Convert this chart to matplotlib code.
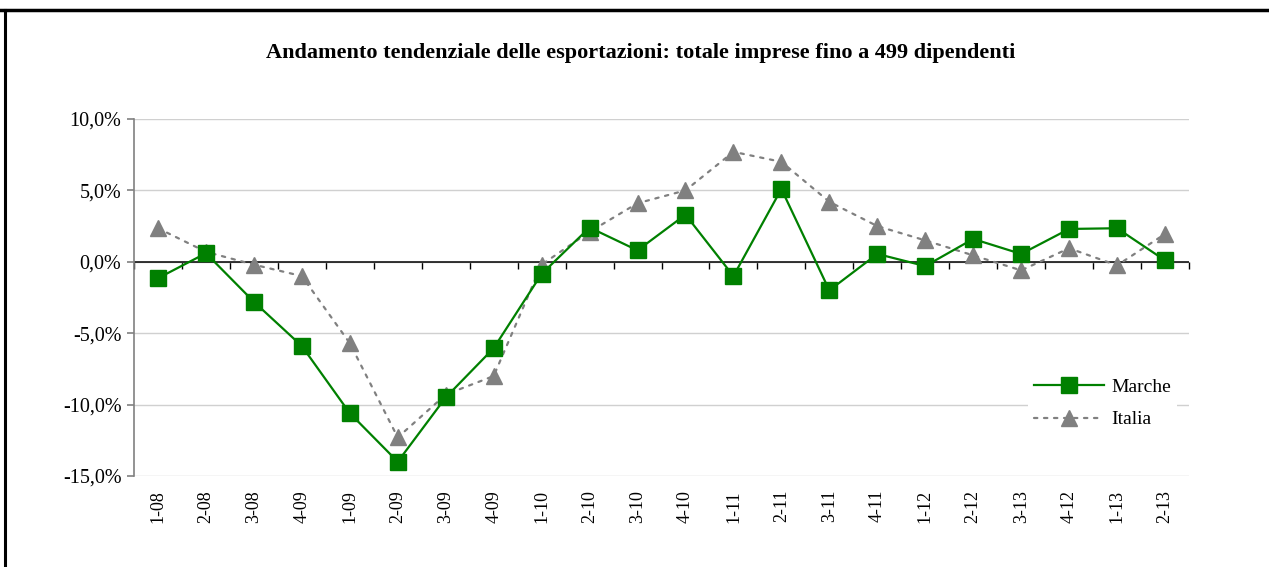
import numpy as np
import matplotlib.pyplot as plt
from matplotlib.lines import Line2D
from matplotlib.ticker import FuncFormatter

# dati (variazione tendenziale, %)
trimestri = ["1-08", "2-08", "3-08", "4-09", "1-09", "2-09", "3-09", "4-09",
             "1-10", "2-10", "3-10", "4-10", "1-11", "2-11", "3-11", "4-11",
             "1-12", "2-12", "3-13", "4-12", "1-13", "2-13"]
marche = [-1.15, 0.6, -2.8, -5.9, -10.6, -14.0, -9.5, -6.05,
          -0.85, 2.4, 0.8, 3.3, -1.0, 5.1, -2.0, 0.55,
          -0.3, 1.6, 0.55, 2.3, 2.35, 0.1]
italia = [2.35, 0.7, -0.2, -1.0, -5.7, -12.3, -9.3, -8.0,
          -0.2, 2.1, 4.1, 5.0, 7.7, 7.0, 4.2, 2.5,
          1.5, 0.45, -0.6, 0.95, -0.25, 1.95]

plt.rcParams['font.family'] = ['Liberation Serif', 'DejaVu Serif']

fig = plt.figure(figsize=(12.69, 5.67), dpi=100)
ax = fig.add_axes([134/1269, 1 - 476/567, 1055/1269, 357/567])

x = np.arange(len(trimestri))
ax.plot(x, marche, color='#008000', lw=1.6, marker='s', markersize=11.5,
        markeredgecolor='#008000', label='Marche', zorder=4)
ax.plot(x, italia, color='#808080', lw=1.6, dashes=(1.5, 3), dash_capstyle='round',
        marker='^', markersize=11, markeredgecolor='#808080', label='Italia', zorder=3)

ax.set_xlim(-0.5, len(trimestri) - 0.5)
ax.set_ylim(-15, 10)
ax.set_yticks(np.arange(-15, 10.1, 5))
ax.yaxis.set_major_formatter(FuncFormatter(lambda v, p: f"{v:.1f}%".replace('.', ',')))
ax.grid(axis='y', color='#d0d0d0', lw=1)
ax.set_axisbelow(True)

for s in ['top', 'right', 'bottom']:
    ax.spines[s].set_visible(False)
ax.spines['left'].set_color('#808080')
ax.spines['left'].set_linewidth(1.2)
ax.tick_params(axis='y', color='#808080', length=5, width=1.2, labelsize=14.5, pad=4)

ax.set_xticks(x)
ax.set_xticklabels(trimestri, rotation=90)
ax.tick_params(axis='x', length=0, labelsize=13, pad=10)

# asse orizzontale sullo zero con tacche tra le categorie
ax.axhline(0, color='black', lw=1.1, zorder=2)
sec = ax.secondary_xaxis(15 / 25)
for s in sec.spines.values():
    s.set_visible(False)
sec.set_xticks(np.arange(-0.5, len(trimestri), 1))
sec.set_xticklabels([])
sec.tick_params(axis='x', direction='in', length=5, width=1, color='black',
                labeltop=False, labelbottom=False)

ax.legend(loc='center left', bbox_to_anchor=(0.838, 0.203), frameon=True,
          facecolor='white', edgecolor='none', framealpha=1, fontsize=14,
          handlelength=3.6, handletextpad=0.4, labelspacing=0.75, borderpad=0.3)

fig.suptitle("Andamento tendenziale delle esportazioni: totale imprese fino a 499 dipendenti",
             x=641/1269, y=1 - 53/567, va='center', fontsize=16, fontweight='bold')

# cornice (lati superiore e sinistro)
fig.add_artist(Line2D([0, 1], [1 - 9.5/567] * 2, transform=fig.transFigure,
                      color='black', lw=2.5))
fig.add_artist(Line2D([5/1269] * 2, [0, 1 - 9.5/567], transform=fig.transFigure,
                      color='black', lw=2.2))

fig.savefig('out.png', dpi=100)
